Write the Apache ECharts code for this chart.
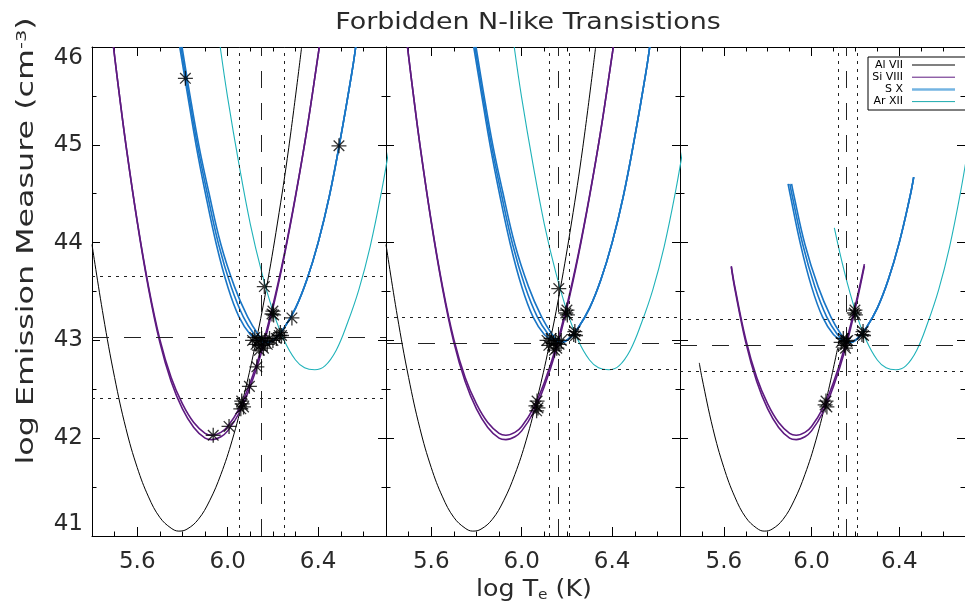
<!DOCTYPE html>
<html>
<head>
<meta charset="utf-8">
<script src="https://cdn.jsdelivr.net/npm/echarts@6/dist/echarts.min.js"></script>
<style>
  html, body { margin: 0; padding: 0; background: #ffffff; }
  #chart { width: 965px; height: 608px; }
</style>
</head>
<body>
<div id="chart"></div>
<script>
// ---------------- data: emission-measure loci, log EM vs log Te ----------------
const ION_NAMES = ['Al VII', 'Si VIII', 'S X', 'Ar XII'];
const TE_LABELS = [5.6, 6.0, 6.4];

// Al VII locus (full temperature range)
const AL_VII = [[5.40,43.98],[5.45,43.25],[5.50,42.62],[5.55,42.10],[5.60,41.70],[5.65,41.40],
  [5.70,41.19],[5.75,41.08],[5.784,41.05],[5.82,41.07],[5.87,41.17],[5.92,41.36],[5.97,41.63],
  [6.02,41.98],[6.07,42.42],[6.12,42.93],[6.17,43.52],[6.22,44.20],[6.27,44.97],[6.327,46.0]];
// Si VIII loci (two densities)
const SI_VIII_A = [[5.495,46.0],[5.52,45.53],[5.55,45.0],[5.60,44.22],[5.65,43.55],[5.70,43.01],
  [5.75,42.62],[5.80,42.35],[5.85,42.16],[5.90,42.05],[5.93,42.03],[5.97,42.06],[6.00,42.12],
  [6.05,42.30],[6.10,42.57],[6.15,42.92],[6.20,43.36],[6.25,43.88],[6.30,44.48],[6.35,45.15],
  [6.40,45.92],[6.405,46.0]];
const SI_VIII_B = [[5.495,46.0],[5.52,45.53],[5.55,45.0],[5.60,44.21],[5.65,43.53],[5.70,42.98],
  [5.75,42.58],[5.80,42.30],[5.85,42.11],[5.90,42.00],[5.93,41.985],[5.97,42.015],[6.00,42.075],
  [6.05,42.255],[6.10,42.53],[6.15,42.88],[6.20,43.33],[6.25,43.86],[6.30,44.47],[6.35,45.15],
  [6.40,45.92],[6.405,46.0]];
// S X loci (three densities)
const S_X_1 = [[5.788,46.0],[5.82,45.55],[5.86,45.0],[5.90,44.52],[5.95,43.98],[6.00,43.55],
  [6.05,43.24],[6.10,43.06],[6.14,42.995],[6.17,42.98],[6.21,43.02],[6.25,43.13],[6.30,43.33],
  [6.35,43.62],[6.40,44.0],[6.45,44.48],[6.50,45.08],[6.55,45.75],[6.566,46.0]];
const S_X_2 = [[5.793,46.0],[5.825,45.55],[5.866,45.0],[5.908,44.52],[5.96,43.98],[6.015,43.55],
  [6.069,43.24],[6.118,43.06],[6.15,42.995],[6.175,42.98],[6.21,43.02],[6.25,43.13],[6.30,43.33],
  [6.35,43.62],[6.40,44.0],[6.45,44.48],[6.50,45.08],[6.55,45.75],[6.566,46.0]];
const S_X_3 = [[5.798,46.0],[5.83,45.55],[5.872,45.0],[5.916,44.52],[5.97,43.98],[6.03,43.55],
  [6.088,43.24],[6.135,43.06],[6.162,42.995],[6.182,42.98],[6.21,43.02],[6.25,43.13],[6.30,43.33],
  [6.35,43.62],[6.40,44.0],[6.45,44.48],[6.50,45.08],[6.55,45.75],[6.566,46.0]];
// Ar XII locus
const AR_XII = [[5.967,46.0],[6.00,45.48],[6.05,44.80],[6.10,44.19],[6.15,43.70],[6.20,43.30],
  [6.25,43.0],[6.30,42.80],[6.34,42.72],[6.385,42.70],[6.43,42.74],[6.48,42.90],[6.53,43.18],
  [6.58,43.52],[6.63,43.96],[6.68,44.52],[6.72,45.05]];

// loci restricted to each ion's formation range (third panel)
const AL_VII_R = [[5.488,42.77],[5.50,42.62],[5.55,42.10],[5.60,41.70],[5.65,41.40],[5.70,41.19],
  [5.75,41.08],[5.784,41.05],[5.82,41.07],[5.87,41.17],[5.92,41.36],[5.97,41.63],[6.02,41.98],
  [6.07,42.42],[6.12,42.93]];
const SI_VIII_A_R = [[5.634,43.76],[5.65,43.55],[5.70,43.01],[5.75,42.62],[5.80,42.35],[5.85,42.16],
  [5.90,42.05],[5.93,42.03],[5.97,42.06],[6.00,42.12],[6.05,42.30],[6.10,42.57],[6.15,42.92],
  [6.20,43.36],[6.241,43.78]];
const SI_VIII_B_R = [[5.634,43.75],[5.65,43.53],[5.70,42.98],[5.75,42.58],[5.80,42.30],[5.85,42.11],
  [5.90,42.00],[5.93,41.985],[5.97,42.015],[6.00,42.075],[6.05,42.255],[6.10,42.53],[6.15,42.88],
  [6.20,43.33],[6.241,43.76]];
const S_X_1_R = [[5.893,44.60],[5.90,44.52],[5.95,43.98],[6.00,43.55],[6.05,43.24],[6.10,43.06],
  [6.14,42.995],[6.17,42.98],[6.21,43.02],[6.25,43.13],[6.30,43.33],[6.35,43.62],[6.40,44.0],
  [6.45,44.48],[6.466,44.67]];
const S_X_2_R = [[5.901,44.60],[5.908,44.52],[5.96,43.98],[6.015,43.55],[6.069,43.24],[6.118,43.06],
  [6.15,42.995],[6.175,42.98],[6.21,43.02],[6.25,43.13],[6.30,43.33],[6.35,43.62],[6.40,44.0],
  [6.45,44.48],[6.466,44.67]];
const S_X_3_R = [[5.909,44.60],[5.916,44.52],[5.97,43.98],[6.03,43.55],[6.088,43.24],[6.135,43.06],
  [6.162,42.995],[6.182,42.98],[6.21,43.02],[6.25,43.13],[6.30,43.33],[6.35,43.62],[6.40,44.0],
  [6.45,44.48],[6.466,44.67]];
const AR_XII_R = [[6.104,44.15],[6.15,43.70],[6.20,43.30],[6.25,43.0],[6.30,42.80],[6.34,42.72],
  [6.385,42.70],[6.43,42.74],[6.48,42.90],[6.53,43.18],[6.58,43.52],[6.63,43.96],[6.68,44.52],
  [6.72,45.05]];

// line-pair crossings (asterisks), one list per panel
const CROSS_1 = [[5.813,45.68],[6.492,44.99],[5.936,42.03],[6.006,42.12],[6.058,42.30],[6.064,42.35],
  [6.070,42.32],[6.062,42.38],[6.096,42.53],[6.129,42.73],[6.162,43.55],[6.196,43.27],[6.200,43.30],
  [6.203,43.26],[6.228,43.05],[6.233,43.08],[6.238,43.05],[6.284,43.23],[6.110,43.00],[6.120,43.03],
  [6.125,42.96],[6.135,43.00],[6.145,42.95],[6.150,43.02],[6.158,42.92],[6.165,42.99],[6.175,42.96],
  [6.185,43.02],[6.140,42.90],[6.200,43.00],[6.215,43.02]];
const CROSS_2 = [[6.164,43.53],[6.195,43.28],[6.200,43.31],[6.202,43.26],[6.230,43.06],[6.235,43.09],
  [6.238,43.05],[6.112,43.00],[6.120,42.95],[6.130,43.02],[6.140,42.97],[6.150,43.00],[6.155,42.92],
  [6.165,42.96],[6.175,43.00],[6.145,42.90],[6.063,42.33],[6.068,42.38],[6.072,42.31],[6.066,42.28]];
const CROSS_3 = [[6.195,43.28],[6.198,43.31],[6.200,43.26],[6.230,43.06],[6.235,43.09],[6.237,43.05],
  [6.135,42.98],[6.145,43.02],[6.150,42.95],[6.160,42.99],[6.155,42.92],[6.165,43.00],[6.062,42.34],
  [6.066,42.38],[6.070,42.32]];

// mean and spread of the solution in each panel
const TE_LOW  = [6.053, 6.115, 6.116];
const TE_MEAN = [6.153, 6.160, 6.164];
const TE_HIGH = [6.254, 6.209, 6.212];
const EM_LOW  = [42.41, 42.71, 42.68];
const EM_MEAN = [43.03, 42.97, 42.95];
const EM_HIGH = [43.66, 43.24, 43.22];

// ---------------- styling ----------------
const FONT = '"DejaVu Sans", sans-serif';
const TXT = '#2a2a2a';
const INK = '#000000';
const COL = { al: '#000000', si: '#5e1a80', s: '#1a76c6', ar: '#1fb2b9' };
const GRID_LEFT = [92, 386, 680];
const GRID_TOP = 47, GRID_W = 294, GRID_H = 489;
const STAR = 'path://M10,0L10,20M0,10L20,10M2.93,2.93L17.07,17.07M2.93,17.07L17.07,2.93';

const PANELS = [
  { al: AL_VII, si: [SI_VIII_A, SI_VIII_B], s: [S_X_1, S_X_2, S_X_3], ar: AR_XII, cross: CROSS_1 },
  { al: AL_VII, si: [SI_VIII_A, SI_VIII_B], s: [S_X_1, S_X_2, S_X_3], ar: AR_XII, cross: CROSS_2 },
  { al: AL_VII_R, si: [SI_VIII_A_R, SI_VIII_B_R], s: [S_X_1_R, S_X_2_R, S_X_3_R], ar: AR_XII_R, cross: CROSS_3 }
];

const grids = [], xAxes = [], yAxes = [], series = [];
const axisLine = { show: true, onZero: false, lineStyle: { color: INK, width: 1 } };

PANELS.forEach((p, gi) => {
  grids.push({ left: GRID_LEFT[gi], top: GRID_TOP, width: GRID_W, height: GRID_H, show: false });

  ['bottom', 'top'].forEach(pos => {
    const isMain = pos === 'bottom';
    // labelled axis with long ticks
    xAxes.push({
      type: 'value', gridIndex: gi, position: pos, min: 5.4, max: 6.7,
      axisLine,
      axisTick: { show: true, inside: true, length: 9, customValues: TE_LABELS, lineStyle: { color: INK } },
      axisLabel: {
        show: isMain, customValues: TE_LABELS, margin: 15,
        formatter: v => v.toFixed(1),
        fontFamily: FONT, fontSize: 23, color: TXT
      },
      splitLine: { show: false }
    });
    // short ticks every 0.1
    xAxes.push({
      type: 'value', gridIndex: gi, position: pos, min: 5.4, max: 6.7, interval: 0.1,
      axisLine: { show: false },
      axisTick: { show: true, inside: true, length: 4.5, lineStyle: { color: INK } },
      axisLabel: { show: false }, splitLine: { show: false }
    });
  });

  ['left', 'right'].forEach(pos => {
    const labelled = gi === 0 && pos === 'left';
    yAxes.push({
      type: 'value', gridIndex: gi, position: pos, min: 41, max: 46, interval: 1,
      axisLine,
      axisTick: { show: true, inside: true, length: 8, lineStyle: { color: INK } },
      minorTick: { show: true, splitNumber: 2, length: 4.5, lineStyle: { color: INK } },
      minorSplitLine: { show: false },
      axisLabel: {
        show: labelled, margin: 9, fontFamily: FONT, fontSize: 23, color: TXT,
        verticalAlignMaxLabel: 'top', verticalAlignMinLabel: 'bottom'
      },
      splitLine: { show: false }
    });
  });

  const xi = gi * 4, yi = gi * 2;
  const line = (name, data, color, width) => ({
    type: 'line', name, xAxisIndex: xi, yAxisIndex: yi, data,
    showSymbol: false, symbol: 'none', smooth: 0.4,
    lineStyle: { color, width }, silent: true, animation: false, clip: true
  });

  const alSeries = line(ION_NAMES[0], p.al, COL.al, 1);
  const refStyle = (type) => ({ color: '#222', width: 1, type });
  const dotted = [3, 5], dashed = [17, 15];
  alSeries.markLine = {
    silent: true, symbol: ['none', 'none'], label: { show: false }, animation: false,
    data: [
      { xAxis: TE_LOW[gi], lineStyle: refStyle(dotted) },
      { xAxis: TE_MEAN[gi], lineStyle: refStyle(dashed) },
      { xAxis: TE_HIGH[gi], lineStyle: refStyle(dotted) },
      { yAxis: EM_LOW[gi], lineStyle: refStyle(dotted) },
      { yAxis: EM_MEAN[gi], lineStyle: refStyle(dashed) },
      { yAxis: EM_HIGH[gi], lineStyle: refStyle(dotted) }
    ]
  };
  series.push(alSeries);
  p.si.forEach(d => series.push(line(ION_NAMES[1], d, COL.si, 1.6)));
  p.s.forEach(d => series.push(line(ION_NAMES[2], d, COL.s, 1.6)));
  series.push(line(ION_NAMES[3], p.ar, COL.ar, 1.1));
  series.push({
    type: 'scatter', xAxisIndex: xi, yAxisIndex: yi, data: p.cross,
    symbol: STAR, symbolSize: 15, silent: true, animation: false,
    itemStyle: { color: 'rgba(0,0,0,0)', borderColor: '#000', borderWidth: 1.3 },
    z: 5
  });
});

// legend box (ion names with line samples)
const LEG_COLORS = ['#808080', '#5e1a80', '#74b4e2', '#1aa9ad'];
const LEG_WIDTHS = [2, 1, 2.5, 1];
const legendChildren = [{
  type: 'rect', shape: { x: 868, y: 57, width: 120, height: 53 },
  style: { fill: '#fff', stroke: '#000', lineWidth: 1 }
}];
ION_NAMES.forEach((n, i) => {
  const y = 65 + i * 12.2;
  legendChildren.push({
    type: 'text', x: 903, y,
    style: { text: n, font: '11px ' + FONT, fill: '#000', align: 'right', verticalAlign: 'middle' }
  });
  legendChildren.push({
    type: 'line', shape: { x1: 912, y1: y, x2: 955, y2: y },
    style: { stroke: LEG_COLORS[i], lineWidth: LEG_WIDTHS[i] }
  });
});

// titles: the stroke font used for the axes is wide, hence the horizontal stretch
const titles = [
  {
    type: 'text', x: 528, y: 23, scaleX: 1.17,
    style: { text: 'Forbidden N-like Transistions', font: '23px ' + FONT, fill: TXT, align: 'center', verticalAlign: 'middle' }
  },
  {
    type: 'text', x: 534, y: 590, scaleX: 1.1,
    style: {
      text: 'log T{sub|e} (K)', font: '23px ' + FONT, fill: TXT, align: 'center', verticalAlign: 'middle',
      rich: { sub: { font: '14px ' + FONT, fill: TXT, verticalAlign: 'bottom', padding: [10, 0, 0, 0] } }
    }
  },
  {
    type: 'text', x: 27, y: 241, rotation: Math.PI / 2, scaleX: 1.38,
    style: {
      text: 'log Emission Measure (cm{sup|-3})', font: '23px ' + FONT, fill: TXT, align: 'center', verticalAlign: 'middle',
      rich: { sup: { font: '14px ' + FONT, fill: TXT, verticalAlign: 'top', padding: [0, 0, 10, 0] } }
    }
  }
];

const chart = echarts.init(document.getElementById('chart'), null, { renderer: 'canvas' });
chart.setOption({
  animation: false,
  backgroundColor: '#ffffff',
  grid: grids,
  xAxis: xAxes,
  yAxis: yAxes,
  series,
  graphic: titles.concat([{ type: 'group', children: legendChildren }])
});
</script>
</body>
</html>
